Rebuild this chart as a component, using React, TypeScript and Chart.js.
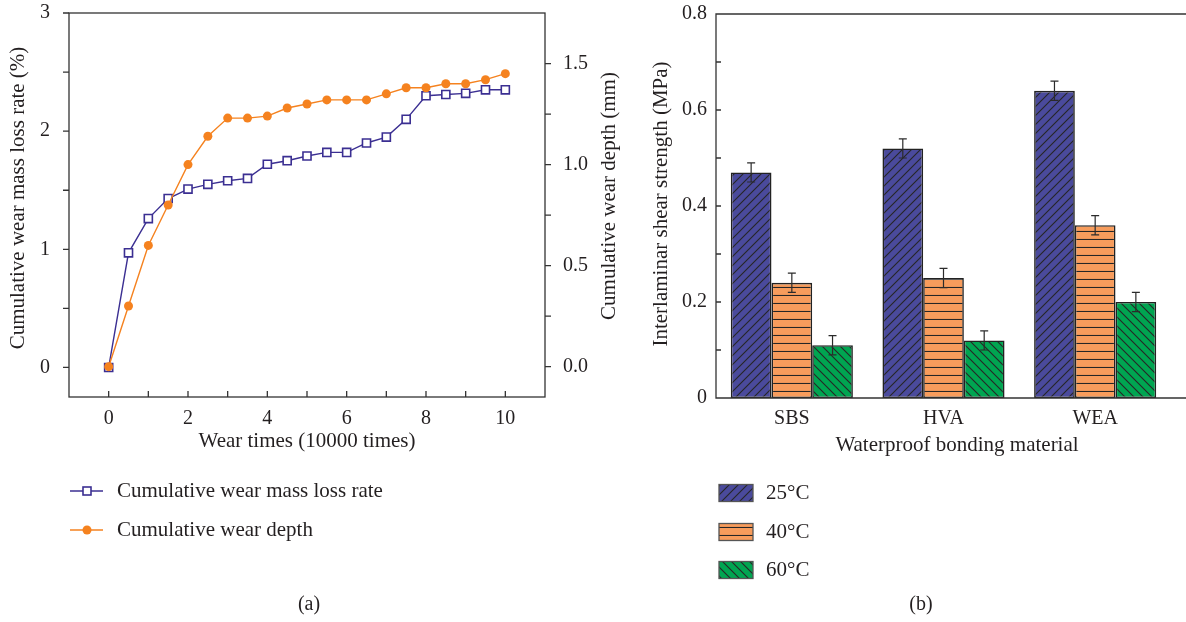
import React, { useEffect, useRef } from "react";
import { Chart, registerables } from "chart.js";

Chart.register(...registerables);

// ---------- data ----------
const WEAR_TIMES = [0, 0.5, 1, 1.5, 2, 2.5, 3, 3.5, 4, 4.5, 5, 5.5, 6, 6.5, 7, 7.5, 8, 8.5, 9, 9.5, 10];
const MASS_LOSS_RATE = [0, 0.97, 1.26, 1.43, 1.51, 1.55, 1.58, 1.6, 1.72, 1.75, 1.79, 1.82, 1.82, 1.9, 1.95, 2.1, 2.3, 2.31, 2.32, 2.35, 2.35];
const WEAR_DEPTH = [0, 0.3, 0.6, 0.8, 1.0, 1.14, 1.23, 1.23, 1.24, 1.28, 1.3, 1.32, 1.32, 1.32, 1.35, 1.38, 1.38, 1.4, 1.4, 1.42, 1.45];
const X_TICKS = [0, 1, 2, 3, 4, 5, 6, 7, 8, 9, 10];
const X_TICK_LABELS = ["0", "", "2", "", "4", "", "6", "", "8", "", "10"];
const MASS_TICKS = [0, 0.5, 1, 1.5, 2, 2.5, 3];
const MASS_TICK_LABELS = ["0", "", "1", "", "2", "", "3"];
const DEPTH_TICKS = [0, 0.25, 0.5, 0.75, 1, 1.25, 1.5];
const DEPTH_TICK_LABELS = ["0.0", "", "0.5", "", "1.0", "", "1.5"];

const MATERIALS = ["SBS", "HVA", "WEA"];
const TEMPERATURES = ["25°C", "40°C", "60°C"];
const STRENGTH_25 = [0.47, 0.52, 0.64];
const STRENGTH_40 = [0.24, 0.25, 0.36];
const STRENGTH_60 = [0.11, 0.12, 0.2];
const ERROR_25 = [0.02, 0.02, 0.02];
const ERROR_40 = [0.02, 0.02, 0.02];
const ERROR_60 = [0.02, 0.02, 0.02];
const STRENGTH_TICKS = [0, 0.1, 0.2, 0.3, 0.4, 0.5, 0.6, 0.7, 0.8];
const STRENGTH_TICK_LABELS = ["0", "", "0.2", "", "0.4", "", "0.6", "", "0.8"];

// ---------- styles ----------
const FONT = "'Liberation Serif', 'Times New Roman', serif";
const TEXT = "#231f20";
const AXIS = "#333333";
const BLUE_LINE = "#3b2f92";
const ORANGE_LINE = "#f5821f";
const BAR_COLORS = ["#4a4a9c", "#f79c5c", "#00a551"];

function noPad(s: any) {
  s.paddingTop = 0;
  s.paddingBottom = 0;
  s.paddingLeft = 0;
  s.paddingRight = 0;
}

function makeHatch(bg: string, kind: string, s: number): CanvasPattern | string {
  const c = document.createElement("canvas");
  c.width = s;
  c.height = s;
  const g = c.getContext("2d");
  if (!g) return bg;
  g.fillStyle = bg;
  g.fillRect(0, 0, s, s);
  g.strokeStyle = "#262626";
  g.lineWidth = 1.1;
  g.beginPath();
  if (kind === "fwd") {
    g.moveTo(-1, s + 1); g.lineTo(s + 1, -1);
    g.moveTo(-2, 2); g.lineTo(2, -2);
    g.moveTo(s - 2, s + 2); g.lineTo(s + 2, s - 2);
  } else if (kind === "back") {
    g.moveTo(-1, -1); g.lineTo(s + 1, s + 1);
    g.moveTo(s - 2, -2); g.lineTo(s + 2, 2);
    g.moveTo(-2, s - 2); g.lineTo(2, s + 2);
  } else {
    g.moveTo(0, s - 0.5); g.lineTo(s, s - 0.5);
  }
  g.stroke();
  const p = g.createPattern(c, "repeat");
  return p || bg;
}

function LeftChart() {
  const ref = useRef<HTMLCanvasElement | null>(null);
  useEffect(() => {
    if (!ref.current) return;
    const tickFont = { family: FONT, size: 20 };
    const decor = {
      id: "decorA",
      afterDatasetsDraw(chart: any) {
        const { ctx, chartArea: a, scales } = chart;
        ctx.save();
        ctx.strokeStyle = AXIS;
        ctx.lineWidth = 1.3;
        ctx.strokeRect(a.left, a.top, a.right - a.left, a.bottom - a.top);
        ctx.beginPath();
        MASS_TICKS.forEach((v) => {
          const y = scales.y.getPixelForValue(v);
          ctx.moveTo(a.left - 6, y); ctx.lineTo(a.left, y);
        });
        DEPTH_TICKS.forEach((v) => {
          const y = scales.y1.getPixelForValue(v);
          ctx.moveTo(a.right, y); ctx.lineTo(a.right + 6, y);
        });
        X_TICKS.forEach((v) => {
          const x = scales.x.getPixelForValue(v);
          ctx.moveTo(x, a.bottom); ctx.lineTo(x, a.bottom - 6);
        });
        ctx.stroke();
        ctx.restore();
      },
      afterDraw(chart: any) {
        const { ctx, chartArea: a } = chart;
        ctx.save();
        ctx.fillStyle = TEXT;
        ctx.font = `21px ${FONT}`;
        ctx.textAlign = "center";
        ctx.textBaseline = "middle";
        ctx.fillText("Wear times (10000 times)", (a.left + a.right) / 2, 441);
        ctx.save();
        ctx.translate(18, 198);
        ctx.rotate(-Math.PI / 2);
        ctx.fillText("Cumulative wear mass loss rate (%)", 0, 0);
        ctx.restore();
        ctx.save();
        ctx.translate(609, 196);
        ctx.rotate(-Math.PI / 2);
        ctx.fillText("Cumulative wear depth (mm)", 0, 0);
        ctx.restore();
        ctx.font = `20px ${FONT}`;
        ctx.fillText("(a)", 309, 605);
        // legend
        const items = chart.data.datasets;
        const ys = [491, 530];
        ctx.font = `21px ${FONT}`;
        ctx.textAlign = "left";
        [1, 0].forEach((dsIndex, k) => {
          const ds = items[dsIndex];
          const y = ys[k];
          ctx.strokeStyle = ds.borderColor;
          ctx.lineWidth = 1.4;
          ctx.beginPath();
          ctx.moveTo(70, y); ctx.lineTo(103, y);
          ctx.stroke();
          if (ds.pointStyle === "rect") {
            ctx.fillStyle = "#fff";
            ctx.fillRect(83, y - 4, 8, 8);
            ctx.lineWidth = 1.6;
            ctx.strokeRect(83, y - 4, 8, 8);
          } else {
            ctx.fillStyle = ds.borderColor;
            ctx.beginPath();
            ctx.arc(87, y, 4.5, 0, Math.PI * 2);
            ctx.fill();
          }
          ctx.fillStyle = TEXT;
          ctx.fillText(ds.label, 117, y);
        });
        ctx.restore();
      },
    };
    const chart = new Chart(ref.current, {
      type: "line",
      data: {
        datasets: [
          {
            label: "Cumulative wear depth",
            data: WEAR_TIMES.map((x, i) => ({ x, y: WEAR_DEPTH[i] })),
            yAxisID: "y1",
            borderColor: ORANGE_LINE,
            backgroundColor: ORANGE_LINE,
            borderWidth: 1.4,
            pointStyle: "circle",
            pointRadius: 4.5,
            pointBorderWidth: 0,
            pointBackgroundColor: ORANGE_LINE,
            tension: 0,
          },
          {
            label: "Cumulative wear mass loss rate",
            data: WEAR_TIMES.map((x, i) => ({ x, y: MASS_LOSS_RATE[i] })),
            yAxisID: "y",
            borderColor: BLUE_LINE,
            backgroundColor: "#ffffff",
            borderWidth: 1.4,
            pointStyle: "rect",
            pointRadius: 5.7,
            pointBorderWidth: 1.6,
            pointBackgroundColor: "#ffffff",
            pointBorderColor: BLUE_LINE,
            tension: 0,
          },
        ],
      },
      options: {
        animation: false,
        responsive: false,
        events: [],
        layout: { padding: { top: 13, left: 0, right: 0, bottom: 0 } },
        plugins: { legend: { display: false }, tooltip: { enabled: false } },
        scales: {
          x: {
            type: "linear",
            min: -1,
            max: 11,
            afterBuildTicks: (s: any) => { s.ticks = X_TICKS.map((v) => ({ value: v })); },
            afterFit: (s: any) => { s.height = 225; noPad(s); },
            ticks: {
              font: tickFont,
              color: TEXT,
              padding: 10,
              maxRotation: 0,
              autoSkip: false,
              callback: (v: any) => X_TICK_LABELS[X_TICKS.indexOf(Number(v))] ?? "",
            },
            grid: { display: false, drawTicks: false },
            border: { display: false },
          },
          y: {
            type: "linear",
            position: "left",
            min: -0.25,
            max: 3,
            afterBuildTicks: (s: any) => { s.ticks = MASS_TICKS.map((v) => ({ value: v })); },
            afterFit: (s: any) => { s.width = 69; noPad(s); },
            ticks: {
              font: tickFont,
              color: TEXT,
              padding: 19,
              autoSkip: false,
              callback: (v: any) => MASS_TICK_LABELS[MASS_TICKS.indexOf(Number(v))] ?? "",
            },
            grid: { display: false, drawTicks: false },
            border: { display: false },
          },
          y1: {
            type: "linear",
            position: "right",
            min: -0.15,
            max: 1.75,
            afterBuildTicks: (s: any) => { s.ticks = DEPTH_TICKS.map((v) => ({ value: v })); },
            afterFit: (s: any) => { s.width = 75; noPad(s); },
            ticks: {
              font: tickFont,
              color: TEXT,
              padding: 18,
              autoSkip: false,
              callback: (v: any) => DEPTH_TICK_LABELS[DEPTH_TICKS.indexOf(Number(v))] ?? "",
            },
            grid: { display: false, drawTicks: false },
            border: { display: false },
          },
        },
      },
      plugins: [decor],
    } as any);
    return () => chart.destroy();
  }, []);
  return <canvas ref={ref} width={620} height={622} style={{ position: "absolute", left: 0, top: 0 }} />;
}

function RightChart() {
  const ref = useRef<HTMLCanvasElement | null>(null);
  useEffect(() => {
    if (!ref.current) return;
    const patterns = [
      makeHatch(BAR_COLORS[0], "fwd", 9),
      makeHatch(BAR_COLORS[1], "h", 8),
      makeHatch(BAR_COLORS[2], "back", 9),
    ];
    const values = [STRENGTH_25, STRENGTH_40, STRENGTH_60];
    const errors = [ERROR_25, ERROR_40, ERROR_60];
    const tickFont = { family: FONT, size: 20 };
    const decor = {
      id: "decorB",
      afterDatasetsDraw(chart: any) {
        const { ctx, chartArea: a, scales, width } = chart;
        ctx.save();
        // error bars
        ctx.strokeStyle = "#2b2b2b";
        ctx.lineWidth = 1.2;
        chart.data.datasets.forEach((ds: any, i: number) => {
          const meta = chart.getDatasetMeta(i);
          meta.data.forEach((el: any, j: number) => {
            const v = values[i][j];
            const e = errors[i][j];
            const yt = scales.y.getPixelForValue(v + e);
            const yb = scales.y.getPixelForValue(v - e);
            ctx.beginPath();
            ctx.moveTo(el.x, yt); ctx.lineTo(el.x, yb);
            ctx.moveTo(el.x - 4, yt); ctx.lineTo(el.x + 4, yt);
            ctx.moveTo(el.x - 4, yb); ctx.lineTo(el.x + 4, yb);
            ctx.stroke();
          });
        });
        // frame
        ctx.strokeStyle = AXIS;
        ctx.lineWidth = 1.3;
        ctx.beginPath();
        ctx.moveTo(width, a.top); ctx.lineTo(a.left, a.top); ctx.lineTo(a.left, a.bottom); ctx.lineTo(width, a.bottom);
        STRENGTH_TICKS.forEach((v) => {
          const y = scales.y.getPixelForValue(v);
          ctx.moveTo(a.left, y); ctx.lineTo(a.left + 5, y);
        });
        ctx.stroke();
        ctx.restore();
      },
      afterDraw(chart: any) {
        const { ctx } = chart;
        ctx.save();
        ctx.fillStyle = TEXT;
        ctx.font = `21px ${FONT}`;
        ctx.textAlign = "center";
        ctx.textBaseline = "middle";
        ctx.fillText("Waterproof bonding material", 957 - 620, 445);
        ctx.save();
        ctx.translate(661 - 620, 204);
        ctx.rotate(-Math.PI / 2);
        ctx.fillText("Interlaminar shear strength (MPa)", 0, 0);
        ctx.restore();
        ctx.font = `20px ${FONT}`;
        ctx.fillText("(b)", 921 - 620, 605);
        // legend
        const ys = [493, 532, 570];
        ctx.font = `21px ${FONT}`;
        ctx.textAlign = "left";
        chart.data.datasets.forEach((ds: any, i: number) => {
          const y = ys[i];
          ctx.fillStyle = ds.backgroundColor;
          ctx.fillRect(99, y - 8.5, 34, 17);
          ctx.strokeStyle = "#555";
          ctx.lineWidth = 1.3;
          ctx.strokeRect(99, y - 8.5, 34, 17);
          ctx.fillStyle = TEXT;
          ctx.fillText(ds.label, 146, y);
        });
        ctx.restore();
      },
    };
    const chart = new Chart(ref.current, {
      type: "bar",
      data: {
        labels: MATERIALS,
        datasets: TEMPERATURES.map((t, i) => ({
          label: t,
          data: values[i],
          backgroundColor: patterns[i],
          borderColor: "#222222",
          borderWidth: 1.6,
          borderSkipped: false,
          categoryPercentage: 0.805,
          barPercentage: 1,
        })),
      },
      options: {
        animation: false,
        responsive: false,
        events: [],
        layout: { padding: { top: 14, left: 0, right: 15, bottom: 0 } },
        plugins: { legend: { display: false }, tooltip: { enabled: false } },
        scales: {
          x: {
            type: "category",
            afterFit: (s: any) => { s.height = 224; noPad(s); },
            ticks: { font: tickFont, color: TEXT, padding: 9, maxRotation: 0 },
            grid: { display: false, drawTicks: false },
            border: { display: false },
          },
          y: {
            type: "linear",
            min: 0,
            max: 0.8,
            afterBuildTicks: (s: any) => { s.ticks = STRENGTH_TICKS.map((v) => ({ value: v })); },
            afterFit: (s: any) => { s.width = 96; noPad(s); },
            ticks: {
              font: tickFont,
              color: TEXT,
              padding: 9,
              autoSkip: false,
              callback: (v: any) => {
                const idx = STRENGTH_TICKS.findIndex((t) => Math.abs(t - Number(v)) < 1e-6);
                return idx >= 0 ? STRENGTH_TICK_LABELS[idx] : "";
              },
            },
            grid: { display: false, drawTicks: false },
            border: { display: false },
          },
        },
      },
      plugins: [decor],
    } as any);
    return () => chart.destroy();
  }, []);
  return <canvas ref={ref} width={566} height={622} style={{ position: "absolute", left: 620, top: 0 }} />;
}

export default function App() {
  return (
    <div style={{ position: "absolute", left: 0, top: 0, width: 1186, height: 622, background: "#fff", overflow: "hidden" }}>
      <LeftChart />
      <RightChart />
    </div>
  );
}
